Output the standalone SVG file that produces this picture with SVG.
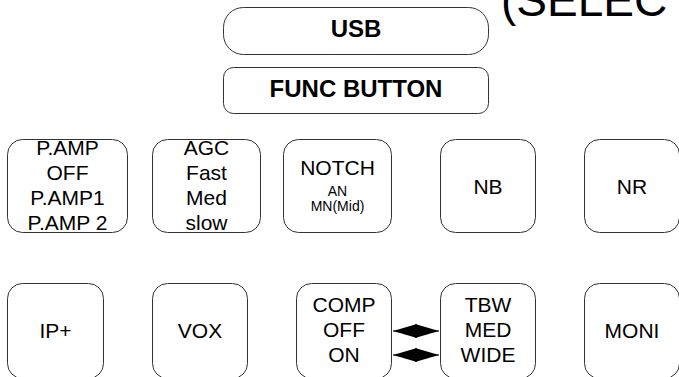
<svg xmlns="http://www.w3.org/2000/svg" width="679" height="377" viewBox="0 0 679 377">
<style>
.b{fill:#fff;stroke:#333;stroke-width:1}
.t{font-family:"Liberation Sans",Arial,sans-serif;font-size:21px;fill:#000;text-anchor:middle}
.s{font-size:14px}
.bold{font-weight:bold;font-size:24px}
.c{stroke:#000;stroke-width:1;fill:none}
</style>
<defs>
<marker id="ah" viewBox="0 0 24 14" refX="24" refY="7" markerWidth="24" markerHeight="14" markerUnits="userSpaceOnUse" orient="auto-start-reverse">
<path d="M0,0 L24,7 L0,14 Z" fill="#000"/>
</marker>
</defs>
<rect width="679" height="377" fill="#fff"/>
<text x="501" y="16" font-family="Liberation Sans,Arial,sans-serif" font-size="46" fill="#000">(SELEC</text>
<g id="usb"><rect class="b" x="223.5" y="7.5" width="265" height="47" rx="20"/><text class="t bold" x="356" y="37">USB</text></g>
<g id="func"><rect class="b" x="223.5" y="67.5" width="265" height="46" rx="10"/><text class="t bold" x="356" y="97">FUNC BUTTON</text></g>
<g id="pamp"><rect class="b" x="7.5" y="139.5" width="120" height="93" rx="15"/>
<text class="t" x="67.5" y="155">P.AMP</text><text class="t" x="67.5" y="180">OFF</text><text class="t" x="67.5" y="205">P.AMP1</text><text class="t" x="67.5" y="230">P.AMP 2</text></g>
<g id="agc"><rect class="b" x="152.5" y="139.5" width="108" height="93" rx="15"/>
<text class="t" x="206.5" y="155">AGC</text><text class="t" x="206.5" y="180">Fast</text><text class="t" x="206.5" y="205">Med</text><text class="t" x="206.5" y="230">slow</text></g>
<g id="notch"><rect class="b" x="283.5" y="139.5" width="108" height="93" rx="15"/>
<text class="t" x="337.5" y="175">NOTCH</text><text class="t s" x="337.5" y="196">AN</text><text class="t s" x="337.5" y="211">MN(Mid)</text></g>
<g id="nb"><rect class="b" x="440.5" y="139.5" width="95" height="93" rx="15"/><text class="t" x="488" y="194">NB</text></g>
<g id="nr"><rect class="b" x="584.5" y="139.5" width="95" height="93" rx="15"/><text class="t" x="632" y="194">NR</text></g>
<g id="ip"><rect class="b" x="7.5" y="283.5" width="96" height="95" rx="15"/><text class="t" x="55.5" y="338">IP+</text></g>
<g id="vox"><rect class="b" x="152.5" y="283.5" width="95" height="95" rx="15"/><text class="t" x="200" y="338">VOX</text></g>
<g id="comp"><rect class="b" x="296.5" y="283.5" width="95" height="95" rx="15"/>
<text class="t" x="344" y="312">COMP</text><text class="t" x="344" y="337">OFF</text><text class="t" x="344" y="362">ON</text></g>
<g id="tbw"><rect class="b" x="440.5" y="283.5" width="95" height="95" rx="15"/>
<text class="t" x="488" y="312">TBW</text><text class="t" x="488" y="337">MED</text><text class="t" x="488" y="362">WIDE</text></g>
<g id="moni"><rect class="b" x="584.5" y="283.5" width="95" height="95" rx="15"/><text class="t" x="632" y="338">MONI</text></g>
<g id="connectors">
<path class="c" d="M393,331 L439,331" marker-start="url(#ah)" marker-end="url(#ah)"/>
<path class="c" d="M393,355 L439,355" marker-start="url(#ah)" marker-end="url(#ah)"/>
</g>
</svg>
